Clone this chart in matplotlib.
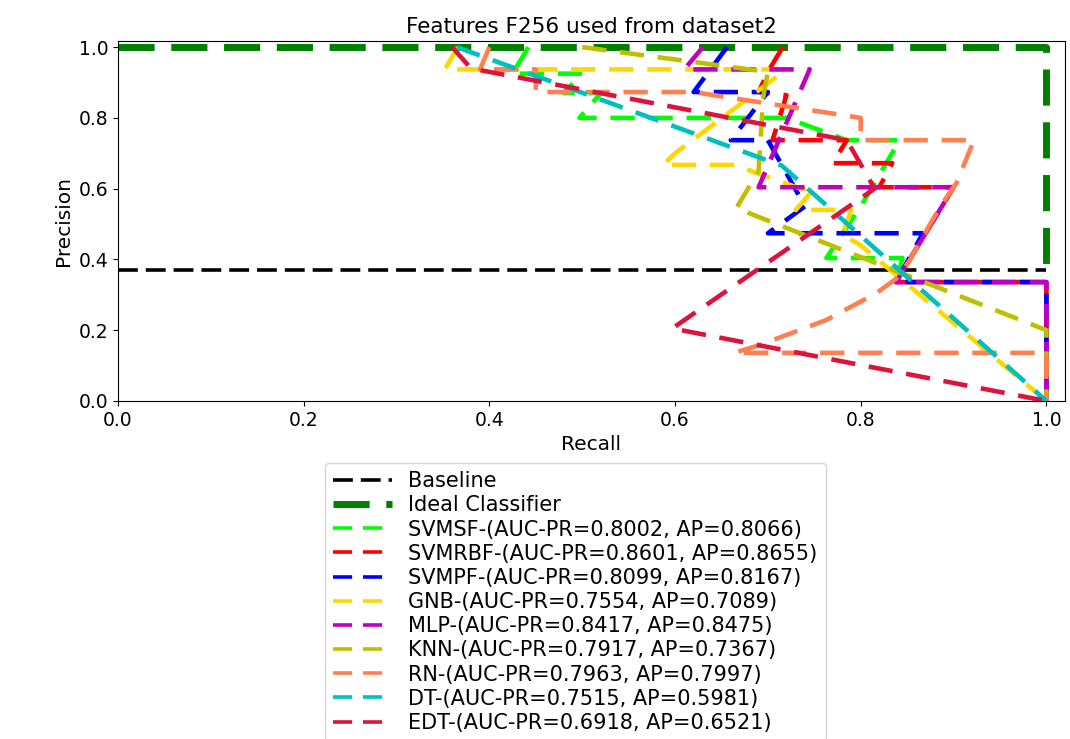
import matplotlib.pyplot as plt

# baseline precision (positive rate)
baseline = 0.37

names = ['SVMSF', 'SVMRBF', 'SVMPF', 'GNB', 'MLP', 'KNN', 'RN', 'DT', 'EDT']
auc_pr = [0.8002, 0.8601, 0.8099, 0.7554, 0.8417, 0.7917, 0.7963, 0.7515, 0.6918]
ap = [0.8066, 0.8655, 0.8167, 0.7089, 0.8475, 0.7367, 0.7997, 0.5981, 0.6521]
colors = ['lime', 'red', 'blue', 'gold', 'm', 'y', 'coral', 'c', 'crimson']

# curves (recall, precision)
rec_svmsf = [0.442, 0.425, 0.50, 0.48, 0.52, 0.497, 0.72, 0.785, 0.842, 0.80, 0.763, 0.845, 0.838]
pre_svmsf = [1.0, 0.925, 0.925, 0.87, 0.87, 0.80, 0.80, 0.737, 0.737, 0.55, 0.404, 0.404, 0.336]

rec_svmrbf = [0.716, 0.70, 0.69, 0.72, 0.705, 0.785, 0.77, 0.834, 0.82, 0.90, 0.838, 1.0, 1.0]
pre_svmrbf = [1.0, 0.93, 0.873, 0.864, 0.737, 0.737, 0.672, 0.672, 0.604, 0.604, 0.336, 0.336, 0.0]

rec_svmpf = [0.656, 0.62, 0.70, 0.66, 0.70, 0.74, 0.70, 0.867, 0.838, 1.0, 1.0]
pre_svmpf = [1.0, 0.873, 0.873, 0.737, 0.737, 0.55, 0.474, 0.474, 0.336, 0.336, 0.0]

rec_gnb = [0.366, 0.352, 0.72, 0.60, 0.587, 0.664, 0.735, 0.75, 0.73, 0.79, 0.78, 0.80, 1.0]
pre_gnb = [1.0, 0.937, 0.937, 0.70, 0.667, 0.667, 0.60, 0.60, 0.54, 0.54, 0.47, 0.44, 0.0]

rec_mlp = [0.63, 0.61, 0.745, 0.69, 0.90, 0.838, 1.0, 1.0]
pre_mlp = [1.0, 0.937, 0.937, 0.604, 0.604, 0.336, 0.336, 0.0]

rec_knn = [0.50, 0.70, 0.695, 0.69, 0.666, 1.0, 1.0]
pre_knn = [1.0, 0.93, 0.86, 0.65, 0.545, 0.20, 0.0]

rec_rn = [0.40, 0.39, 0.45, 0.45, 0.62, 0.80, 0.80, 0.922, 0.903, 0.888, 0.871,
          0.853, 0.838, 0.817, 0.763, 0.691, 0.664, 1.0, 1.0]
pre_rn = [1.0, 0.937, 0.937, 0.873, 0.873, 0.80, 0.737, 0.737, 0.615, 0.559, 0.483,
          0.398, 0.345, 0.305, 0.229, 0.158, 0.136, 0.136, 0.0]

rec_dt = [0.365, 0.715, 1.0]
pre_dt = [1.0, 0.665, 0.0]

rec_edt = [0.36, 0.38, 0.785, 0.815, 0.597, 1.0]
pre_edt = [1.0, 0.94, 0.737, 0.60, 0.205, 0.0]

recalls = [rec_svmsf, rec_svmrbf, rec_svmpf, rec_gnb, rec_mlp, rec_knn, rec_rn, rec_dt, rec_edt]
precisions = [pre_svmsf, pre_svmrbf, pre_svmpf, pre_gnb, pre_mlp, pre_knn, pre_rn, pre_dt, pre_edt]

fig = plt.figure(figsize=(10.7, 7.39), dpi=100)
ax = fig.add_axes([0.1103, 0.4574, 0.885, 0.487])

ax.plot([0, 1], [baseline, baseline], color='black', ls=(0, (5.5, 2.2)), lw=2.6, label='Baseline')
ax.plot([0, 1, 1], [1, 1, baseline], color='green', ls=(0, (5.2, 2.4)), lw=5, label='Ideal Classifier')

for i in range(len(names)):
    lbl = f'{names[i]}-(AUC-PR={auc_pr[i]:.4f}, AP={ap[i]:.4f})'
    ax.plot(recalls[i], precisions[i], color=colors[i], ls=(0, (5.3, 3.0)), lw=3.3, label=lbl)

ax.set_xlim(0, 1.02)
ax.set_ylim(0, 1.017)
ax.tick_params(labelsize=13.5)
ax.set_xlabel('Recall', fontsize=14.5)
ax.set_ylabel('Precision', fontsize=14.5)
ax.set_title('Features F256 used from dataset2', fontsize=15.5)

leg = ax.legend(loc='upper center', bbox_to_anchor=(0.483, -0.172), borderaxespad=0,
                fontsize=15, labelspacing=0.2, handlelength=2.8)
for h in leg.get_lines()[2:]:
    h.set_linewidth(2.6)

fig.savefig('out.png', dpi=100)
